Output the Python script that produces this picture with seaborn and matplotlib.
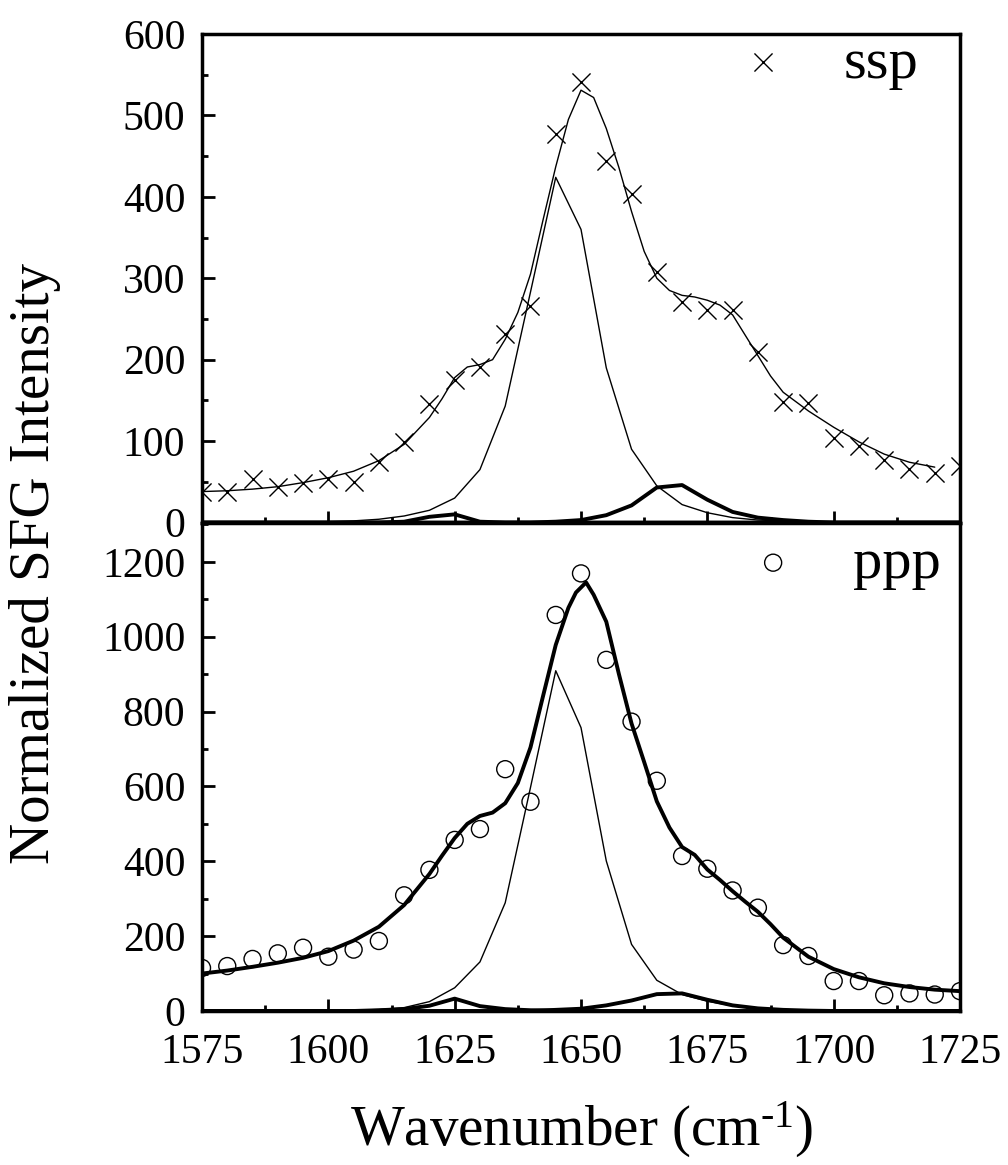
import pandas as pd
import seaborn as sns
import matplotlib.pyplot as plt
from matplotlib.ticker import MultipleLocator

# wavenumber grid of the measured points (cm-1)
wn = [1575, 1580, 1585, 1590, 1595, 1600, 1605, 1610, 1615, 1620,
      1625, 1630, 1635, 1640, 1645, 1650, 1655, 1660, 1665, 1670,
      1675, 1680, 1685, 1690, 1695, 1700, 1705, 1710, 1715, 1720, 1725]

# measured SFG intensity
ssp = [37, 37, 53, 43, 48, 53, 50, 74, 99, 146, 175, 191, 231, 266, 477, 541,
       444, 404, 308, 271, 261, 261, 210, 148, 147, 104, 94, 77, 66, 61, 69]
ppp = [115, 120, 139, 154, 169, 145, 164, 187, 309, 377, 457, 486, 646, 559, 1058, 1169,
       938, 773, 615, 414, 380, 322, 276, 176, 147, 80, 80, 42, 47, 44, 53]

# fitted components (same grid)
ssp_c1 = [0, 0, 0, 0, 0, 1, 2, 4, 8, 15, 30, 65, 143, 283, 424, 360,
          190, 90, 45, 22, 12, 6, 3, 2, 1, 0, 0, 0, 0, 0, 0]
ssp_c2 = [0, 0, 0, 0, 0, 0, 0, 0, 1, 7, 10, 1, 0, 0, 0, 0,
          0, 0, 0, 0, 0, 0, 0, 0, 0, 0, 0, 0, 0, 0, 0]
ssp_c3 = [0, 0, 0, 0, 0, 0, 0, 0, 0, 0, 0, 0, 0, 0, 1, 3,
          9, 21, 43, 46, 28, 13, 6, 3, 1, 0, 0, 0, 0, 0, 0]
ppp_c1 = [0, 0, 0, 0, 0, 0, 2, 4, 9, 25, 62, 131, 289, 597, 909, 757,
          401, 178, 82, 44, 26, 14, 8, 4, 2, 1, 0, 0, 0, 0, 0]
ppp_c2 = [0, 0, 0, 0, 0, 0, 0, 2, 5, 14, 33, 13, 5, 2, 1, 0,
          0, 0, 0, 0, 0, 0, 0, 0, 0, 0, 0, 0, 0, 0, 0]
ppp_c3 = [0, 0, 0, 0, 0, 0, 0, 0, 0, 0, 0, 0, 0, 0, 3, 6,
          15, 28, 45, 47, 30, 15, 7, 3, 1, 0, 0, 0, 0, 0, 0]

# total fits
ssp_fit_x = [1575, 1580, 1585, 1590, 1595, 1600, 1605, 1610, 1615, 1620,
             1622.5, 1625, 1627.5, 1630, 1632.5, 1635, 1637.5, 1640, 1642.5, 1645,
             1647.5, 1650, 1652.5, 1655, 1657.5, 1660, 1662.5, 1665, 1667.5, 1670,
             1672.5, 1675, 1677.5, 1680, 1682.5, 1685, 1687.5, 1690,
             1695, 1700, 1705, 1710, 1715, 1720]
ssp_fit_y = [38, 39, 41, 44, 49, 55, 63, 76, 96, 129,
             152, 178, 191, 194, 200, 225, 258, 305, 372, 437,
             495, 531, 522, 484, 436, 382, 333, 300, 285, 279,
             277, 273, 267, 255, 230, 205, 180, 160,
             137, 117, 99, 84, 74, 68]
ppp_fit_x = [1575, 1580, 1585, 1590, 1595, 1600, 1605, 1610, 1615, 1620,
             1622.5, 1625, 1627.5, 1630, 1632.5, 1635, 1637.5, 1640, 1642.5, 1645,
             1647.5, 1649, 1651, 1652.5, 1655, 1657.5, 1660, 1662.5, 1665, 1667.5,
             1670, 1672.5, 1675, 1677.5, 1680, 1682.5, 1685, 1687.5, 1690,
             1695, 1700, 1705, 1710, 1715, 1720, 1725]
ppp_fit_y = [100, 108, 118, 129, 142, 160, 188, 225, 283, 366,
             415, 462, 500, 521, 530, 555, 609, 704, 842, 978,
             1077, 1118, 1145, 1112, 1040, 900, 768, 665, 560, 490,
             438, 417, 378, 350, 320, 292, 265, 232, 196,
             145, 112, 90, 74, 64, 57, 53]

sns.set_style("ticks")
plt.rcParams['font.family'] = ['Liberation Serif', 'DejaVu Serif']
plt.rcParams['mathtext.fontset'] = 'custom'
plt.rcParams['mathtext.rm'] = 'Liberation Serif'
plt.rcParams['mathtext.it'] = 'Liberation Serif'
plt.rcParams['text.color'] = 'black'
plt.rcParams['axes.labelcolor'] = 'black'

fig, (ax1, ax2) = plt.subplots(2, 1, sharex=True, figsize=(10.08, 11.65), dpi=100)
fig.subplots_adjust(left=0.2004, right=0.9524, top=0.9708, bottom=0.1322, hspace=0)

thin = 1.0
bold = 2.8

# ssp panel
sns.lineplot(x=ssp_fit_x, y=ssp_fit_y, ax=ax1, color='black', linewidth=thin)
sns.lineplot(x=wn, y=ssp_c1, ax=ax1, color='black', linewidth=thin)
sns.lineplot(x=wn, y=ssp_c2, ax=ax1, color='black', linewidth=bold)
sns.lineplot(x=wn, y=ssp_c3, ax=ax1, color='black', linewidth=bold)
sns.scatterplot(x=wn, y=ssp, ax=ax1, marker='x', s=170, color='black',
                linewidth=1.0, label='ssp', zorder=3)

# ppp panel
sns.lineplot(x=ppp_fit_x, y=ppp_fit_y, ax=ax2, color='black', linewidth=bold)
sns.lineplot(x=wn, y=ppp_c1, ax=ax2, color='black', linewidth=thin)
sns.lineplot(x=wn, y=ppp_c2, ax=ax2, color='black', linewidth=bold)
sns.lineplot(x=wn, y=ppp_c3, ax=ax2, color='black', linewidth=bold)
sns.scatterplot(x=wn, y=ppp, ax=ax2, marker='o', s=150, color='black',
                facecolors='none', edgecolor='black', linewidth=1.0,
                label='ppp', zorder=3)

ax1.set_ylim(0, 600)
ax2.set_ylim(0, 1305)
ax2.set_xlim(1575, 1725)
ax1.yaxis.set_major_locator(MultipleLocator(100))
ax1.yaxis.set_minor_locator(MultipleLocator(50))
ax2.yaxis.set_major_locator(MultipleLocator(200))
ax2.yaxis.set_minor_locator(MultipleLocator(100))
ax2.xaxis.set_major_locator(MultipleLocator(25))
ax2.xaxis.set_minor_locator(MultipleLocator(12.5))

for ax in (ax1, ax2):
    ax.set_xlabel('')
    ax.set_ylabel('')
    for sp in ax.spines.values():
        sp.set_visible(True)
        sp.set_linewidth(2.5)
        sp.set_color('black')
    ax.tick_params(which='both', direction='in', top=False, right=False,
                   width=2, colors='black', labelsize=30, pad=12)
    ax.tick_params(which='major', length=9)
    ax.tick_params(which='minor', length=4.5)
ax2.tick_params(axis='x', pad=16)

leg1 = ax1.legend(loc='upper left', bbox_to_anchor=(0.702, 0.994), frameon=False,
                  fontsize=42, handlelength=1, handletextpad=0.87, borderpad=0,
                  borderaxespad=0)
leg2 = ax2.legend(loc='upper left', bbox_to_anchor=(0.715, 0.970), frameon=False,
                  fontsize=42, handlelength=1, handletextpad=0.87, borderpad=0,
                  borderaxespad=0)

fig.text(0.0352, 1 - 563 / 1165, 'Normalized SFG Intensity', rotation=90,
         ha='center', va='center', fontsize=41)
fig.text(582 / 1008, 1 - 1130 / 1165, 'Wavenumber (cm$^{\u20101}$)',
         ha='center', va='center', fontsize=41)

fig.savefig('out.png', dpi=100)
